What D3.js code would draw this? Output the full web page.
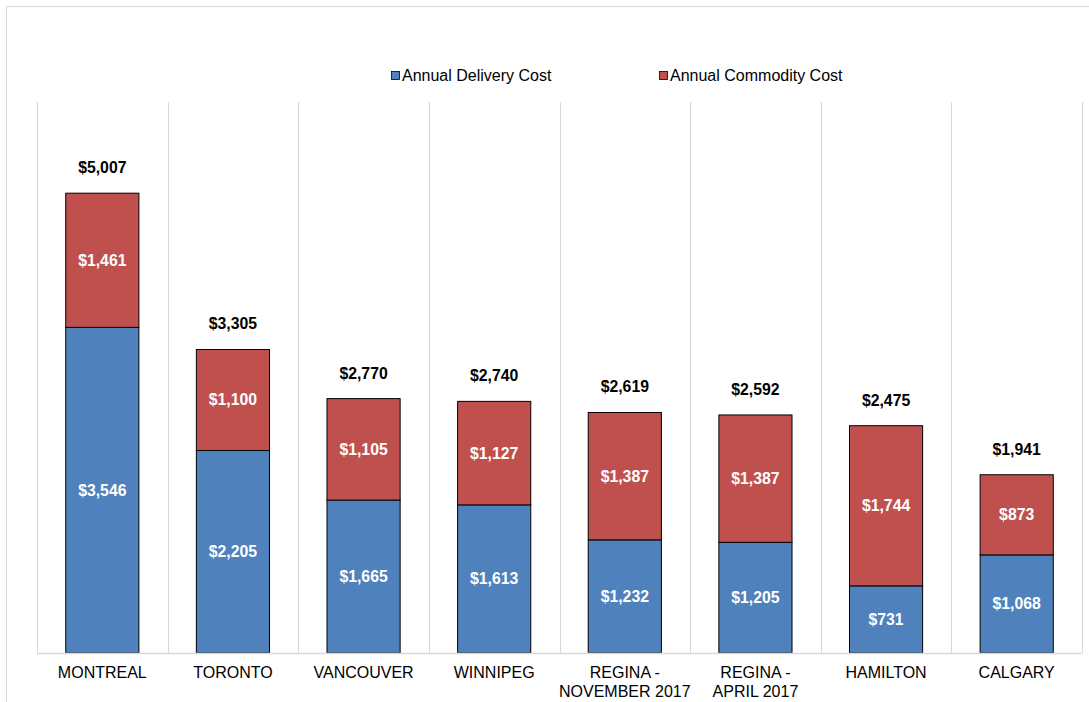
<!DOCTYPE html>
<html>
<head>
<meta charset="utf-8">
<script src="https://cdn.jsdelivr.net/npm/d3@7/dist/d3.min.js"></script>
<style>
  html, body { margin: 0; padding: 0; background: #fff; }
  svg { display: block; font-family: "Liberation Sans", Arial, sans-serif; }
</style>
</head>
<body>
<svg id="chart" width="1089" height="702"></svg>
<script>
// City labels (multi-line where the axis wraps them)
const categories = [
  ["MONTREAL"],
  ["TORONTO"],
  ["VANCOUVER"],
  ["WINNIPEG"],
  ["REGINA -", "NOVEMBER 2017"],
  ["REGINA -", "APRIL 2017"],
  ["HAMILTON"],
  ["CALGARY"]
];
const deliveryCost  = [3546, 2205, 1665, 1613, 1232, 1205, 731, 1068];
const commodityCost = [1461, 1100, 1105, 1127, 1387, 1387, 1744, 873];
const totalCost     = [5007, 3305, 2770, 2740, 2619, 2592, 2475, 1941];
const seriesNames   = ["Annual Delivery Cost", "Annual Commodity Cost"];
const yDomain       = [0, 6000];

const colors = ["#4F81BD", "#C0504D"];
const svg = d3.select("#chart");

// outer frame
svg.append("rect")
  .attr("x", 6.5).attr("y", 6.5).attr("width", 1090).attr("height", 700)
  .attr("fill", "none").attr("stroke", "#d9d9d9").attr("stroke-width", 1);

const plot = { left: 37, right: 1082, top: 102, bottom: 653 };
const ids = categories.map((c, i) => i);

const x = d3.scaleBand().domain(ids).range([plot.left, plot.right]).paddingInner(0).paddingOuter(0);
const y = d3.scaleLinear().domain(yDomain).range([plot.bottom, plot.top]);

// vertical category separators
const sep = d3.range(categories.length + 1).map(i => plot.left + i * x.bandwidth());
svg.append("g").selectAll("line").data(sep).join("line")
  .attr("x1", d => Math.round(d) + 0.5).attr("x2", d => Math.round(d) + 0.5)
  .attr("y1", plot.top).attr("y2", plot.bottom)
  .attr("stroke", "#d9d9d9").attr("stroke-width", 1);

// stacked data
const rows = ids.map(i => ({ i, delivery: deliveryCost[i], commodity: commodityCost[i] }));
const stack = d3.stack().keys(["delivery", "commodity"])(rows);

const barW = x.bandwidth() * 0.56;
const bx = i => x(i) + (x.bandwidth() - barW) / 2;

const layers = svg.append("g").selectAll("g").data(stack).join("g")
  .attr("fill", (d, k) => colors[k]);

layers.selectAll("rect").data(d => d).join("rect")
  .attr("x", d => bx(d.data.i))
  .attr("width", barW)
  .attr("y", d => y(d[1]))
  .attr("height", d => y(d[0]) - y(d[1]))
  .attr("stroke", "#000").attr("stroke-width", 1);

// value labels inside segments
const fmt = v => "$" + d3.format(",")(v);
layers.selectAll("text").data(d => d).join("text")
  .attr("x", d => bx(d.data.i) + barW / 2)
  .attr("y", d => (y(d[0]) + y(d[1])) / 2 + 5.5)
  .attr("text-anchor", "middle")
  .attr("fill", "#fff")
  .attr("font-size", 15.8).attr("font-weight", "bold")
  .text(d => fmt(d[1] - d[0]));

// totals above bars
svg.append("g").selectAll("text").data(ids).join("text")
  .attr("x", i => x(i) + x.bandwidth() / 2)
  .attr("y", i => y(totalCost[i]) - 20)
  .attr("text-anchor", "middle")
  .attr("fill", "#000")
  .attr("font-size", 15.8).attr("font-weight", "bold")
  .text(i => fmt(totalCost[i]));

// category axis
const xAxis = svg.append("g").attr("transform", `translate(0,${plot.bottom})`)
  .call(d3.axisBottom(x).tickSize(0).tickFormat(""));
xAxis.select(".domain").attr("stroke", "#d9d9d9").attr("stroke-width", 1.5)
  .attr("d", `M${plot.left},0.5H${plot.right}`);
xAxis.selectAll(".tick").append("text")
  .attr("fill", "#000").attr("font-size", 16).attr("text-anchor", "middle")
  .attr("font-family", "Liberation Sans, Arial, sans-serif")
  .selectAll("tspan").data(i => categories[i]).join("tspan")
  .attr("x", 0).attr("y", (d, k) => 25 + k * 19)
  .text(d => d);

// legend
const legendX = [391, 659];
const legend = svg.append("g").selectAll("g").data(seriesNames).join("g")
  .attr("transform", (d, k) => `translate(${legendX[k]},71)`);
legend.append("rect").attr("x", 0.5).attr("y", 0.5).attr("width", 8).attr("height", 8)
  .attr("fill", (d, k) => colors[k]).attr("stroke", "#000").attr("stroke-width", 0.8);
legend.append("text").attr("x", 11).attr("y", 10)
  .attr("font-size", 16).attr("fill", "#000").text(d => d);
</script>
</body>
</html>
